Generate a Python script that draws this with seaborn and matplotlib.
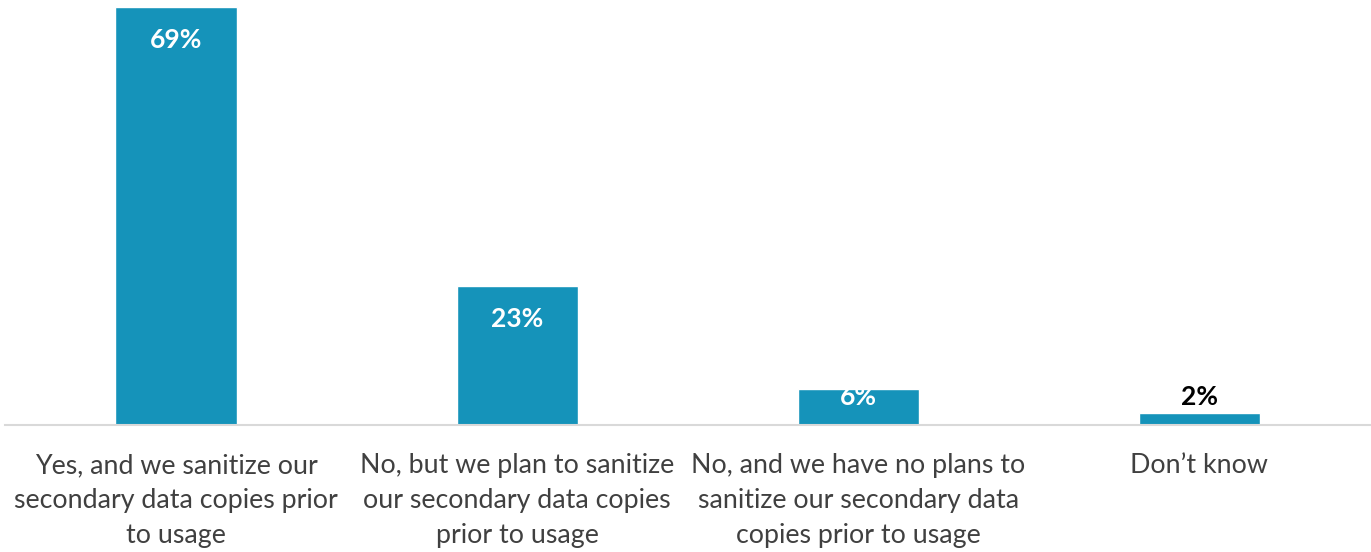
import matplotlib
matplotlib.use('Agg')
import matplotlib.pyplot as plt
import seaborn as sns
import pandas as pd

# Chart data
categories = ['Yes, and we sanitize our\nsecondary data copies prior\nto usage',
              'No, but we plan to sanitize\nour secondary data copies\nprior to usage',
              'No, and we have no plans to\nsanitize our secondary data\ncopies prior to usage',
              'Don\u2019t know']
values = [69, 23, 6, 2]
value_labels = ['69%', '23%', '6%', '2%']

sns.set_style('white')
plt.rcParams['font.family'] = ['Lato', 'DejaVu Sans']

df = pd.DataFrame({'Category': categories, 'Percent': values})

fig = plt.figure(figsize=(13.71, 5.52), dpi=100)
ax = fig.add_axes([0.004, 0.230, 0.995, 0.770])

sns.barplot(data=df, x='Category', y='Percent', color='#1593BA',
            saturation=1, width=0.355, ax=ax)

ax.set_ylim(0, 70.2)
ax.set_xlim(-0.5, 3.5)
ax.set_xlabel('')
ax.set_ylabel('')
ax.set_yticks([])
for side in ['top', 'right', 'left']:
    ax.spines[side].set_visible(False)
ax.spines['bottom'].set_color('#D9D9D9')
ax.spines['bottom'].set_linewidth(1.5)
ax.tick_params(axis='x', length=0, pad=20, labelsize=19.3, labelcolor='#404040')
for lbl in ax.get_xticklabels():
    lbl.set_linespacing(1.5)

# Value annotations
for bar, txt, v in zip(ax.patches, value_labels, values):
    x = bar.get_x() + bar.get_width() / 2
    h = bar.get_height()
    if v >= 20:
        ax.annotate(txt, (x, h), xytext=(0, -33), textcoords='offset pixels',
                    ha='center', va='center', fontsize=19, fontweight='bold',
                    color='white')
    elif v >= 5:
        ax.annotate(txt, (x, h), xytext=(0, -8), textcoords='offset pixels',
                    ha='center', va='center', fontsize=19, fontweight='bold',
                    color='white')
    else:
        ax.annotate(txt, (x, h), xytext=(0, 4), textcoords='offset pixels',
                    ha='center', va='bottom', fontsize=19, fontweight='bold',
                    color='black')

fig.savefig('out.png', dpi=100)
